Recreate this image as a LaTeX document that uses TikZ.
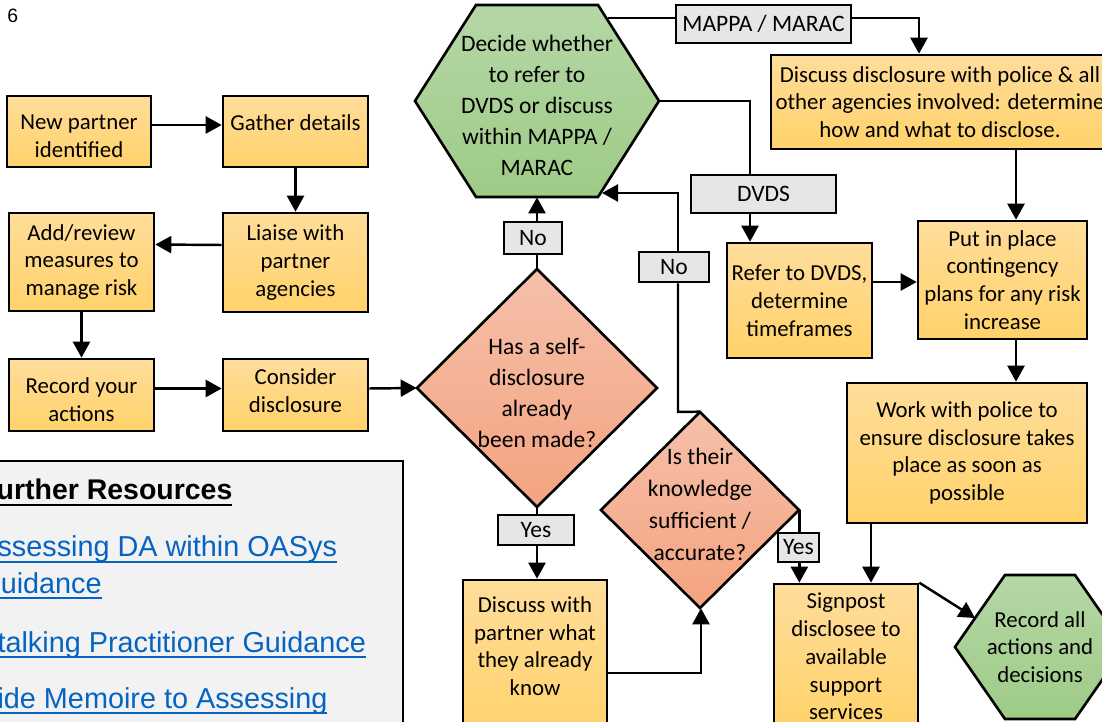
\documentclass[tikz,border=0pt]{standalone}
\usepackage{fontspec}
\setmainfont{Carlito}
\newfontfamily\arialf{Liberation Sans}
\usetikzlibrary{arrows.meta,calc}
\definecolor{boxtop}{RGB}{255,221,155}
\definecolor{boxbot}{RGB}{255,210,105}
\definecolor{hextop}{RGB}{181,215,166}
\definecolor{hexbot}{RGB}{158,203,134}
\definecolor{diatop}{RGB}{245,192,170}
\definecolor{diabot}{RGB}{244,163,128}
\definecolor{labgray}{RGB}{230,230,230}
\definecolor{resgray}{RGB}{242,242,242}
\definecolor{linkblue}{RGB}{5,99,193}
\newcommand\bxfont{\fontsize{13}{15.8}\selectfont}
\newcommand\hxfont{\fontsize{13.4}{17.6}\selectfont}
\newcommand\dtfont{\fontsize{13.4}{18.2}\selectfont}
\newcommand\lbfont{\fontsize{13.4}{16}\selectfont}
\newcommand\lkfont{\arialf\fontsize{16.4}{18}\selectfont}
\newcommand\ulk[1]{\setbox0\hbox{#1}\rlap{\rule[-3.3pt]{\wd0}{1.2pt}}\box0}
\newcommand\hexshape[6]{\path[#6] ({#1-#3},#2) -- ({#1-#3+#5},{#2-#4}) -- ({#1+#3-#5},{#2-#4}) -- ({#1+#3},#2) -- ({#1+#3-#5},{#2+#4}) -- ({#1-#3+#5},{#2+#4}) -- cycle;}
\newcommand\diashape[5]{\path[#5] ({#1-#3},#2) -- (#1,{#2-#4}) -- ({#1+#3},#2) -- (#1,{#2+#4}) -- cycle;}
\begin{document}
\begin{tikzpicture}[x=0.02cm,y=-0.02cm,
 bx/.style={draw, line width=1.5pt, top color=boxtop, bottom color=boxbot, align=center, inner sep=1pt, font=\bxfont},
 lb/.style={draw, line width=1.5pt, fill=labgray, inner sep=0pt, font=\lbfont},
 st/.style={inner sep=0pt, align=center},
 hexfill/.style={draw, line width=1.5pt, top color=hextop, bottom color=hexbot},
 diafill/.style={draw, line width=1.5pt, top color=diatop, bottom color=diabot},
 arr/.style={-{Triangle[length=0.32cm,width=0.34cm]}, line width=1.4pt},
 con/.style={line width=1.4pt}]
\useasboundingbox (0,0) rectangle (1102,722);
\clip (0,0) rectangle (1102,722);
\fill[white] (0,0) rectangle (1102,722);

% page number
\node[anchor=base west, inner sep=0pt, font=\arialf\fontsize{11}{13}\selectfont] (pg) at (7,23) {6};

% shapes
\hexshape{537}{101}{122}{96}{61}{hexfill}
\hexshape{1040}{647}{85}{72}{50}{hexfill}
\diashape{537}{388}{120}{119}{diafill}
\diashape{700}{510}{99}{98}{diafill}

% left boxes
\node[bx, minimum width=2.88cm, minimum height=1.42cm] (npi) at (79,131.5) {\rule{0pt}{0.47cm}New partner\\identified};
\node[bx, minimum width=2.9cm, minimum height=1.42cm] (gd) at (295.5,131.5) {Gather details\\[-0.2cm]\mbox{}};
\node[bx, minimum width=2.9cm, minimum height=1.98cm] (lw) at (295.5,262.5) {Liaise with\\partner\\agencies};
\node[bx, minimum width=2.9cm, minimum height=1.96cm] (ar) at (81.5,262) {Add/review\\measures to\\manage risk};
\node[bx, minimum width=2.9cm, minimum height=1.44cm] (ry) at (81.5,395) {\rule{0pt}{0.5cm}Record your\\actions};
\node[bx, minimum width=2.9cm, minimum height=1.44cm] (cd) at (295.5,395) {Consider\\disclosure\rule[-0.18cm]{0pt}{0.18cm}};

% shape texts
\node[st, font=\hxfont, minimum width=4.8cm, minimum height=4.76cm] (d1) at (537,388) {\rule{0pt}{0.51cm}Has a self-\\disclosure\\already\\been made?};
\node[st, font=\hxfont, minimum width=4.88cm, minimum height=3.84cm] (hex1) at (537,101) {\rule{0pt}{0.5cm}Decide whether\\to refer to\\DVDS or discuss\\within MAPPA /\\MARAC};
\node[st, font=\dtfont, minimum width=3.96cm, minimum height=3.92cm] (d2) at (700,510) {Is their\\knowledge\\sufficient /\\accurate?\rule[-0.24cm]{0pt}{0.24cm}};
\node[st, font=\bxfont, minimum width=3.4cm, minimum height=2.88cm] (ra) at (1040,647) {Record all\\actions and\\decisions};

% labels
\node[lb, minimum width=1.16cm, minimum height=0.64cm] (no1) at (533,238) {No};
\node[lb, minimum width=3.5cm, minimum height=0.76cm] (mappa) at (763.5,24) {MAPPA / MARAC};
\node[lb, minimum width=2.9cm, minimum height=0.76cm] (dvds) at (763.5,194) {DVDS};
\node[lb, minimum width=1.4cm, minimum height=0.6cm] (no2) at (674,267) {No};
\node[lb, minimum width=1.52cm, minimum height=0.6cm] (yes1) at (536,530) {Yes};
\node[lb, minimum width=0.82cm, minimum height=0.58cm] (yes2) at (798.5,547.5) {Yes};

% right boxes
\node[bx, minimum width=6.76cm, minimum height=1.88cm] (ddp) at (940,102) {Discuss disclosure with police \& all\\other agencies involved: determine\\how and what to disclose.};
\node[bx, minimum width=2.9cm, minimum height=2.3cm] (rtd) at (799.5,300.5) {Refer to DVDS,\\determine\\timeframes};
\node[bx, minimum width=3.38cm, minimum height=2.36cm] (pip) at (1002.5,280) {Put in place\\contingency\\plans for any risk\\increase};
\node[bx, minimum width=4.8cm, minimum height=2.8cm] (wwp) at (967,453) {Work with police to\\ensure disclosure takes\\place as soon as\\possible};
\node[bx, minimum width=2.88cm, minimum height=3.2cm] (dwp) at (535,660) {Discuss with\\partner what\\they already\\know\\\mbox{}};
\node[bx, minimum width=2.88cm, minimum height=2.9cm] (sp) at (846,656.5) {Signpost\\disclosee to\\available\\support\\services};

% resources box
\node[draw, line width=1.6pt, fill=resgray, minimum width=8.1cm, minimum height=5.58cm, inner sep=0pt] (res) at (200.5,600.5) {};
\node[anchor=base west, inner sep=0pt, font=\arialf\bfseries\fontsize{16.2}{18}\selectfont] (rt) at (-21,500) {\ulk{Further Resources}};
\node[anchor=base west, inner sep=0pt, text=linkblue, font=\lkfont] (l1a) at (-22,557) {\ulk{Assessing DA within OASys}};
\node[anchor=base west, inner sep=0pt, text=linkblue, font=\lkfont] (l1b) at (-22,593) {\ulk{Guidance}};
\node[anchor=base west, inner sep=0pt, text=linkblue, font=\lkfont] (l2) at (-22,652) {\ulk{Stalking Practitioner Guidance}};
\node[anchor=base west, inner sep=0pt, text=linkblue, font=\lkfont] (l3) at (-22,708) {\ulk{Aide Memoire to Assessing}};

% connectors
\draw[arr] ([yshift=0.13cm]npi.east) -- ([yshift=0.13cm]gd.west);
\draw[arr] (gd.south) -- (lw.north);
\draw[arr] ([yshift=0.35cm]lw.west) -- ([yshift=0.35cm]ar.east);
\draw[arr] (ar.south) -- (ar.south |- ry.north);
\draw[arr] ([yshift=0.13cm]ry.east) -- ([yshift=0.13cm]cd.west);
\draw[arr] ([yshift=0.13cm]cd.east) -- (d1.west);
\draw[con] (d1.north) -- (d1.north |- no1.south);
\draw[arr] (d1.north |- no1.north) -- (hex1.south);
\coordinate (h1m) at (608,18);
\coordinate (c0) at (919,18);
\draw[con] (h1m) -- (h1m -| mappa.west);
\draw[arr] (h1m -| mappa.east) -- (c0) -- (c0 |- ddp.north);
\coordinate (c1) at (750,101);
\draw[con] (hex1.east) -- (c1) -- (c1 |- dvds.north);
\draw[arr] (c1 |- dvds.south) -- (c1 |- rtd.north);
\path ([yshift=0.37cm]rtd.east) coordinate (r1);
\draw[arr] (r1) -- (r1 -| pip.west);
\coordinate (c2) at (1016,0);
\draw[arr] (c2 |- ddp.south) -- (c2 |- pip.north);
\draw[arr] (c2 |- pip.south) -- (c2 |- wwp.north);
\coordinate (c3) at (871,0);
\draw[arr] (c3 |- wwp.south) -- (c3 |- sp.north);
\draw[con] (d2.east) -- (d2.east |- yes2.north);
\draw[arr] (d2.east |- yes2.south) -- (d2.east |- sp.north);
\draw[con] (d1.south) -- (d1.south |- yes1.north);
\draw[arr] (d1.south |- yes1.south) -- (d1.south |- dwp.north);
\coordinate (c4) at (701,673);
\draw[arr] (c4 -| dwp.east) -- (c4) -- (c4 |- d2.south);
\coordinate (c5) at (678,412);
\coordinate (c6) at (678,193);
\coordinate (h1b) at (602,193);
\draw[con] (d2.north) -- (c5) -- (c5 |- no2.south);
\draw[arr] (c5 |- no2.north) -- (c6) -- (h1b);
\coordinate (ra1) at (975,618);
\draw[arr] (sp.north east) -- (ra1);
\end{tikzpicture}
\end{document}
